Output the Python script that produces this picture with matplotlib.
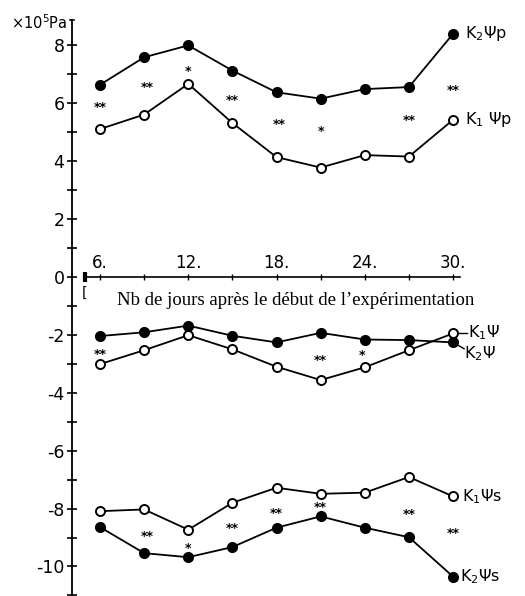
import numpy as np
import matplotlib
matplotlib.use('Agg')
import matplotlib.pyplot as plt
from matplotlib.ticker import FixedLocator

# Days of measurement
days = [6, 9, 12, 15, 18, 21, 24, 27, 30]

# Turgor potential (Psi p), x10^5 Pa
k2_psip = [6.64, 7.59, 8.0, 7.13, 6.38, 6.16, 6.49, 6.56, 8.40]
k1_psip = [5.11, 5.61, 6.67, 5.32, 4.14, 3.78, 4.21, 4.16, 5.43]

# Total water potential (Psi)
k2_psi = [-2.04, -1.91, -1.68, -2.03, -2.26, -1.93, -2.16, -2.18, -2.26]
k1_psi = [-3.01, -2.53, -2.01, -2.50, -3.10, -3.56, -3.12, -2.53, -1.95]

# Osmotic potential (Psi s)
k1_psis = [-8.09, -8.03, -8.73, -7.80, -7.28, -7.49, -7.45, -6.91, -7.58]
k2_psis = [-8.64, -9.54, -9.68, -9.33, -8.66, -8.27, -8.66, -8.99, -10.35]

# Significance marks
star_days = [6, 9.2, 12, 15, 18.2, 21, 27, 30,
             6, 21, 23.8,
             9.2, 12, 15, 18, 21, 27, 30]
star_vals = [5.99, 6.67, 7.23, 6.23, 5.40, 5.16, 5.53, 6.57,
             -2.55, -2.76, -2.60,
             -8.84, -9.25, -8.58, -8.06, -7.85, -8.09, -8.73]
star_text = ['**', '**', '*', '**', '**', '*', '**', '**',
             '**', '**', '*',
             '**', '*', '**', '**', '**', '**', '**']

yticks_major = [8, 6, 4, 2, 0, -2, -4, -6, -8, -10]
yticks_minor = [7, 5, 3, 1, -1, -3, -5, -7, -9, -11]
xticks_major = [6, 12, 18, 24, 30]
xticks_minor = [9, 15, 21, 27]
xtick_labels = ['6.', '12.', '18.', '24.', '30.']

fig = plt.figure(figsize=(5.25, 5.96), dpi=100)
ax = fig.add_axes([0, 0, 1, 1])
ax.set_xlim(-0.798, 34.89)
ax.set_ylim(-11.02, 9.568)

y_axis_x = 4.10
# left spine = vertical axis, top spine moved to y=0 for the day axis
for s in ['right', 'bottom']:
    ax.spines[s].set_visible(False)
ax.spines['left'].set_position(('data', y_axis_x))
ax.spines['left'].set_bounds(-11.02, 8.88)
ax.spines['left'].set_linewidth(1.3)
ax.spines['top'].set_position(('data', 0))
ax.spines['top'].set_bounds(4.98, 30.5)
ax.spines['top'].set_linewidth(1.2)

ax.xaxis.tick_top()
ax.set_xticks(xticks_major)
ax.set_xticklabels(xtick_labels)
ax.xaxis.set_minor_locator(FixedLocator(xticks_minor))
ax.tick_params(axis='x', which='both', direction='inout', length=5, width=1,
               labelsize=12, pad=1)

ax.set_yticks(yticks_major)
ax.set_yticklabels([str(v) if v >= 0 else '-' + str(-v) for v in yticks_major])
ax.yaxis.set_minor_locator(FixedLocator(yticks_minor))
ax.tick_params(axis='y', which='both', direction='inout', length=7, width=1.2,
               labelsize=12.5, pad=2)

# top cap of the y axis
ax.plot([y_axis_x - 0.13, y_axis_x + 0.13], [8.88, 8.88], color='black', lw=1.2)
# break mark at start of day axis
ax.plot([4.98, 4.98], [-0.17, 0.17], color='black', lw=3, solid_capstyle='butt')
ax.text(4.98, -0.55, '[', fontsize=10, ha='center', va='center')

ax.text(3.8, 8.78, r'×10$^5$Pa', fontsize=10.5, ha='right', va='center')

lw = 1.3
ms = 7
def filled(y):
    ax.plot(days, y, '-o', color='black', lw=lw, ms=ms, mfc='black', mec='black', zorder=3)

def hollow(y):
    ax.plot(days, y, '-o', color='black', lw=lw, ms=ms - 0.5, mfc='white', mec='black',
            mew=1.4, zorder=3)

filled(k2_psip)
hollow(k1_psip)
filled(k2_psi)
hollow(k1_psi)
hollow(k1_psis)
filled(k2_psis)

for d, v, t in zip(star_days, star_vals, star_text):
    ax.text(d, v - 0.12, t, fontsize=9, fontweight='bold', ha='center', va='center')

lab = dict(fontsize=11.5, va='center', ha='left')
ax.text(30.8, k2_psip[-1], r'K$_2$Ψp', **lab)
ax.text(30.8, k1_psip[-1], r'K$_1$ Ψp', **lab)
ax.plot([30, 30.95], [k1_psi[-1], k1_psi[-1]], color='black', lw=1)
ax.text(31.0, -1.93, r'K$_1$Ψ', **lab)
ax.plot([30, 30.75], [k2_psi[-1], -2.48], color='black', lw=1)
ax.text(30.75, -2.66, r'K$_2$Ψ', **lab)
ax.text(30.6, k1_psis[-1], r'K$_1$Ψs', **lab)
ax.text(30.5, k2_psis[-1], r'K$_2$Ψs', **lab)

ax.text(19.3, -0.8, 'Nb de jours après le début de l’expérimentation',
        fontsize=13.5, family='Liberation Serif', ha='center', va='center')

fig.savefig('out.png', dpi=100)
